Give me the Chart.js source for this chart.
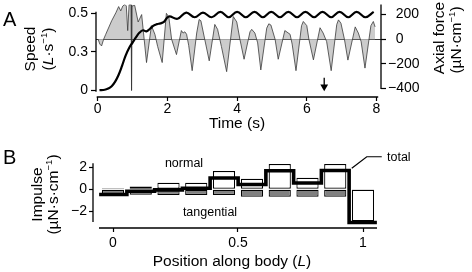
<!DOCTYPE html>
<html>
<head>
<meta charset="utf-8">
<script src="https://cdn.jsdelivr.net/npm/chart.js@4.4.1/dist/chart.umd.min.js"></script>
<style>
  html, body { margin: 0; padding: 0; background: #fff; }
  #wrap { position: relative; width: 472px; height: 272px; }
  canvas { position: absolute; left: 0; }
  #chartA { top: 0; }
  #chartB { top: 136px; }
</style>
</head>
<body>
<div id="wrap">
  <canvas id="chartA" width="472" height="136" style="width:472px;height:136px"></canvas>
  <canvas id="chartB" width="472" height="136" style="width:472px;height:136px"></canvas>
</div>
<script>
const FONT = '"Liberation Sans", Arial, Helvetica, sans-serif';

// panel A: speed (L/s) and axial force (uN/cm) against time (s)
const timeTicks = [0, 2, 4, 6, 8];
const speedTicks = [0, 0.25, 0.5];
const forceTicks = [-400, -200, 0, 200];

const speedTime = [0.05, 0.2, 0.3, 0.4, 0.5, 0.6, 0.7, 0.8, 0.9, 1.0,
  1.1, 1.2, 1.3, 1.4, 1.5, 1.6, 1.7, 1.8, 1.9, 2.04,
  2.29, 2.54, 2.78, 3.02, 3.27, 3.52, 3.76, 4.0,
  4.25, 4.5, 4.74, 4.98, 5.23, 5.47, 5.72, 5.96,
  6.21, 6.45, 6.7, 6.94, 7.19, 7.43, 7.68, 7.92];
const speed = [0, 0.002, 0.01, 0.025, 0.055, 0.1, 0.16, 0.225, 0.275, 0.31,
  0.345, 0.375, 0.39, 0.383, 0.4, 0.42, 0.43, 0.435, 0.445, 0.48,
  0.465, 0.505, 0.475, 0.505, 0.475, 0.51, 0.475, 0.51,
  0.475, 0.51, 0.475, 0.51, 0.475, 0.51, 0.475, 0.51,
  0.475, 0.51, 0.475, 0.51, 0.475, 0.51, 0.475, 0.51];

const forceTime = [0.01, 0.06, 0.11, 0.17, 0.23, 0.40, 0.52, 0.60, 0.66, 0.72,
  0.78, 0.82, 0.86, 0.90, 0.955, 0.97, 0.985, 1.06, 1.16, 1.26,
  1.40, 1.54, 1.64, 1.72, 1.85, 1.97, 2.04, 2.12, 2.26, 2.40,
  2.45, 2.50, 2.55, 2.61, 2.71, 2.84, 2.91, 2.96, 3.07, 3.20,
  3.36, 3.44, 3.55, 3.70, 3.89, 3.99, 4.08, 4.20, 4.37, 4.42,
  4.51, 4.59, 4.68, 4.85, 4.91, 4.97, 5.09, 5.18, 5.37, 5.52,
  5.58, 5.69, 5.85, 5.90, 6.00, 6.06, 6.19, 6.38, 6.47, 6.57,
  6.70, 6.86, 6.91, 6.98, 7.08, 7.18, 7.39, 7.48, 7.56, 7.67,
  7.84, 7.91, 7.96];
const force = [0, -40, -55, 0, 40, 150, 215, 265, 230, 270,
  282, 270, 70, 280, 280, -416, 270, 275, 140, 200,
  -190, 110, 40, -60, -190, 210, 180, 0, -125, 70,
  50, 60, 40, -50, -256, 50, 160, 150, 0, -176,
  120, 80, -60, -264, 184, 140, 0, -163, 60, 80,
  50, -30, -250, 90, 125, 115, 0, -163, 70, 40,
  -40, -256, 110, 144, 110, 0, -168, 93, 50, -20,
  -256, 120, 157, 130, 0, -170, 100, 50, -20, -235,
  110, 144, 100];

const arrowTime = [6.5, 6.5];
const arrowSpeed = [0.08, 0.022];

// panel B: impulse per body segment
const positionTicks = [0, 0.5, 1];
const impulseTicks = [-2, 0, 2];
const segment = [0, 0.111, 0.222, 0.333, 0.444, 0.556, 0.667, 0.778, 0.889, 1];
const normalImpulse = [0.1, 0.25, 0.6, 0.6, 1.68, 0.97, 2.32, 1.06, 2.32, -2.92];
const tangentialImpulse = [-0.55, -0.5, -0.52, -0.52, -0.52, -0.68, -0.68, -0.68, -0.68, -0.15];
const totalImpulse = [-0.48, -0.18, -0.05, 0.1, 1.04, 0.44, 1.7, 0.58, 1.72, -3.05];
const leaderPos = [0.955, 1.015, 1.075];
const leaderImp = [1.93, 2.99, 2.99];

const pts = (xs, ys) => xs.map((x, i) => ({x, y: ys[i]}));
const fixedTicks = values => scale => { scale.ticks = values.map(v => ({value: v})); };
const minus = v => String(v).replace('-', '\u2212');
// keep the plot box exactly where it is set, no room added for edge labels
const fitWidth = w => s => { s.width = w; s.paddingTop = 0; s.paddingBottom = 0; };
const fitHeight = h => s => { s.height = h; s.paddingLeft = 0; s.paddingRight = 0; };

function drawRich(ctx, parts, x, y, size, rotate, align) {
  ctx.save();
  ctx.translate(x, y);
  if (rotate) ctx.rotate(-Math.PI / 2);
  const fontFor = s => (s === 'i' ? 'italic ' : '') + (s === 'sup' ? size * 0.62 : size) + 'px ' + FONT;
  let w = 0;
  parts.forEach(([t, s]) => { ctx.font = fontFor(s); w += ctx.measureText(t).width; });
  let cx = align === 'left' ? 0 : -w / 2;
  ctx.textAlign = 'left';
  ctx.textBaseline = 'middle';
  ctx.fillStyle = '#000';
  parts.forEach(([t, s]) => {
    ctx.font = fontFor(s);
    ctx.fillText(t, cx, s === 'sup' ? -size * 0.33 : 0);
    cx += ctx.measureText(t).width;
  });
  ctx.restore();
}

const tickFont = {family: FONT, size: 14};
const tickGrid = len => ({drawOnChartArea: false, tickLength: len, tickColor: '#000', tickWidth: 1.2});

const decorA = {
  id: 'decorA',
  afterDraw(chart) {
    const {ctx, chartArea: a, scales: {x, yS, yF}} = chart;
    ctx.save();
    ctx.strokeStyle = '#000';
    ctx.lineWidth = 1.3;
    ctx.beginPath();
    ctx.moveTo(a.left, yS.getPixelForValue(-0.01));
    ctx.lineTo(a.left, yS.getPixelForValue(0.51));
    ctx.moveTo(a.right, yF.getPixelForValue(-405));
    ctx.lineTo(a.right, a.top);
    ctx.moveTo(x.getPixelForValue(-0.03), a.bottom);
    ctx.lineTo(x.getPixelForValue(8.05), a.bottom);
    ctx.stroke();
    ctx.restore();
    drawRich(ctx, [['A', '']], 3, 20, 20, false, 'left');
    drawRich(ctx, [['Speed', '']], 31, 49, 15.5, true);
    drawRich(ctx, [['(', ''], ['L', 'i'], ['\u00b7s', ''], ['\u22121', 'sup'], [')', '']], 49, 49, 15.5, true);
    drawRich(ctx, [['Axial force', '']], 440, 38, 15.5, true);
    drawRich(ctx, [['(\u00b5N\u00b7cm', ''], ['\u22121', 'sup'], [')', '']], 457, 40, 15.5, true);
    drawRich(ctx, [['Time (s)', '']], 237, 124, 15.5, false);
  }
};

new Chart(document.getElementById('chartA'), {
  type: 'line',
  data: {
    datasets: [
      {data: pts(speedTime, speed), yAxisID: 'yS', borderColor: '#000', borderWidth: 2.2,
        pointRadius: 0, tension: 0.4, fill: false, order: 0},
      {data: pts(arrowTime, arrowSpeed), yAxisID: 'yS', borderColor: '#000', borderWidth: 1.3,
        pointRadius: [0, 4.5], pointStyle: 'triangle', pointRotation: 180,
        pointBackgroundColor: '#000', pointBorderWidth: 0, fill: false, order: 0},
      {data: pts(forceTime, force), yAxisID: 'yF', borderColor: '#3a3a3a', borderWidth: 0.8,
        backgroundColor: '#cccccc', fill: 'origin', pointRadius: 0, tension: 0, order: 1}
    ]
  },
  options: {
    responsive: false, animation: false, devicePixelRatio: 1,
    layout: {padding: {top: 3, left: 0, right: 0, bottom: 0}},
    plugins: {legend: {display: false}, tooltip: {enabled: false}},
    scales: {
      x: {type: 'linear', min: -0.05, max: 8.13, afterBuildTicks: fixedTicks(timeTicks),
        afterFit: fitHeight(39), border: {display: false}, grid: tickGrid(4),
        ticks: {font: tickFont, color: '#000', padding: 0, maxRotation: 0}},
      yS: {type: 'linear', position: 'left', min: -0.045, max: 0.558, afterBuildTicks: fixedTicks(speedTicks),
        afterFit: fitWidth(96), border: {display: false}, grid: tickGrid(5),
        ticks: {font: tickFont, color: '#000', padding: 3}},
      yF: {type: 'linear', position: 'right', min: -470, max: 282, afterBuildTicks: fixedTicks(forceTicks),
        afterFit: fitWidth(91), border: {display: false},
        grid: {drawOnChartArea: true, lineWidth: 1, tickLength: 5, tickColor: '#000', tickWidth: 1.2,
          color: c => (c.tick && c.tick.value === 0 ? '#333' : 'rgba(0,0,0,0)')},
        ticks: {font: tickFont, color: '#000', padding: 2, crossAlign: 'near',
          callback: v => (v < 0 ? minus(v) : '\u2007' + v)}}
    }
  },
  plugins: [decorA]
});

const half = (segment[1] - segment[0]) / 2;
const totalSteps = segment.map((p, i) => ({x: p - half, y: totalImpulse[i]}));
totalSteps.push({x: segment[segment.length - 1] + half, y: totalImpulse[totalImpulse.length - 1]});

const decorB = {
  id: 'decorB',
  afterDraw(chart) {
    const {ctx, chartArea: a, scales: {x, y}} = chart;
    ctx.save();
    ctx.strokeStyle = '#000';
    ctx.lineWidth = 1.3;
    ctx.beginPath();
    ctx.moveTo(a.left, y.getPixelForValue(2.4));
    ctx.lineTo(a.left, y.getPixelForValue(-3.0));
    ctx.moveTo(x.getPixelForValue(-0.056), a.bottom);
    ctx.lineTo(x.getPixelForValue(1.056), a.bottom);
    ctx.stroke();
    ctx.restore();
    drawRich(ctx, [['B', '']], 3, 22, 20, false, 'left');
    drawRich(ctx, [['Impulse', '']], 37.5, 58.5, 15.5, true);
    drawRich(ctx, [['(\u00b5N\u00b7s\u00b7cm', ''], ['\u22121', 'sup'], [')', '']], 54, 58.5, 15.5, true);
    drawRich(ctx, [['Position along body (', ''], ['L', 'i'], [')', '']], 232, 126, 15.5, false);
    drawRich(ctx, [['normal', '']], x.getPixelForValue(0.284), y.getPixelForValue(2.41), 12.5, false);
    drawRich(ctx, [['tangential', '']], x.getPixelForValue(0.388), y.getPixelForValue(-2.17), 12.5, false);
    drawRich(ctx, [['total', '']], x.getPixelForValue(1.096), y.getPixelForValue(2.87), 12.5, false, 'left');
  }
};

new Chart(document.getElementById('chartB'), {
  type: 'bar',
  data: {
    datasets: [
      {type: 'line', data: totalSteps, stepped: 'before', borderColor: '#000', borderWidth: 3.6,
        pointRadius: 0, fill: false, order: 0},
      {type: 'line', data: pts(leaderPos, leaderImp), borderColor: '#000', borderWidth: 1.2,
        pointRadius: 0, fill: false, clip: false, order: 0},
      {data: pts(segment, normalImpulse), backgroundColor: '#fff', borderColor: '#000', borderWidth: 1.2,
        borderSkipped: false, grouped: false, barPercentage: 0.8, categoryPercentage: 1, order: 1},
      {data: pts(segment, tangentialImpulse), backgroundColor: '#808080', borderColor: '#000', borderWidth: 1.2,
        borderSkipped: false, grouped: false, barPercentage: 0.8, categoryPercentage: 1, order: 2}
    ]
  },
  options: {
    responsive: false, animation: false, devicePixelRatio: 1,
    layout: {padding: {top: 24, left: 0, right: 94, bottom: 0}},
    plugins: {legend: {display: false}, tooltip: {enabled: false}},
    scales: {
      x: {type: 'linear', offset: false, min: -0.08, max: 1.06, afterBuildTicks: fixedTicks(positionTicks),
        afterFit: fitHeight(44), border: {display: false}, grid: {...tickGrid(4), offset: false},
        ticks: {font: tickFont, color: '#000', padding: 3, maxRotation: 0, callback: v => minus(v)}},
      y: {type: 'linear', position: 'left', min: -3.55, max: 2.69, afterBuildTicks: fixedTicks(impulseTicks),
        afterFit: fitWidth(93), border: {display: false}, grid: tickGrid(4),
        ticks: {font: tickFont, color: '#000', padding: 2, callback: v => minus(v)}}
    }
  },
  plugins: [decorB]
});
</script>
</body>
</html>
